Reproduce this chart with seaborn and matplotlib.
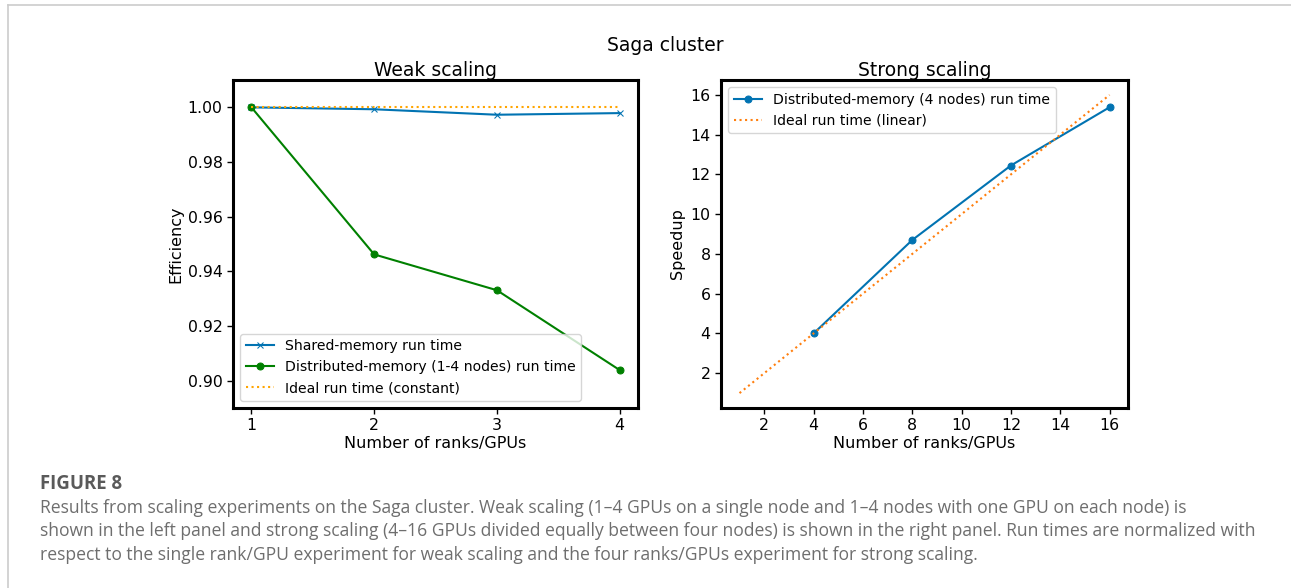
import matplotlib
matplotlib.use("Agg")
import matplotlib.pyplot as plt
import seaborn as sns
from matplotlib.lines import Line2D

# ---- data ----
weak_x = [1, 2, 3, 4]
shared_eff = [1.0, 0.9993, 0.9973, 0.9979]
dist_eff = [1.0, 0.9462, 0.9331, 0.9039]
ideal_eff = [1.0, 1.0, 1.0, 1.0]

strong_x = [4, 8, 12, 16]
strong_speedup = [4.0, 8.70, 12.45, 15.38]
ideal_x = [1, 2, 3, 4, 5, 6, 7, 8, 9, 10, 11, 12, 13, 14, 15, 16]
ideal_speedup = [1, 2, 3, 4, 5, 6, 7, 8, 9, 10, 11, 12, 13, 14, 15, 16]

weak_yticks = [0.90, 0.92, 0.94, 0.96, 0.98, 1.00]
strong_xticks = [2, 4, 6, 8, 10, 12, 14, 16]
strong_yticks = [2, 4, 6, 8, 10, 12, 14, 16]

suptitle = "Saga cluster"
caption_head = "FIGURE 8"
caption_lines = [
    "Results from scaling experiments on the Saga cluster. Weak scaling (1\u20134 GPUs on a single node and 1\u20134 nodes with one GPU on each node) is",
    "shown in the left panel and strong scaling (4\u201316 GPUs divided equally between four nodes) is shown in the right panel. Run times are normalized with",
    "respect to the single rank/GPU experiment for weak scaling and the four ranks/GPUs experiment for strong scaling.",
]

BLUE = "#0173b2"
GREEN = "#008000"
ORANGE_L = "#ffa500"
ORANGE_R = "#ff7f0e"

plt.rcParams["font.family"] = ["DejaVu Sans"]
W, H = 1291, 588
fig = plt.figure(figsize=(W / 100, H / 100), dpi=100)

ax1 = fig.add_axes([0.1805, 0.3061, 0.3137, 0.5578])
ax2 = fig.add_axes([0.5585, 0.3061, 0.3153, 0.5578])

sns.lineplot(x=weak_x, y=shared_eff, ax=ax1, color=BLUE, marker="x", markersize=5,
             markeredgecolor=BLUE, linewidth=1.5, label="Shared-memory run time")
sns.lineplot(x=weak_x, y=dist_eff, ax=ax1, color=GREEN, marker="o", markersize=5,
             markeredgecolor=GREEN, linewidth=1.5, label="Distributed-memory (1-4 nodes) run time")
sns.lineplot(x=weak_x, y=ideal_eff, ax=ax1, color=ORANGE_L, linestyle=":", linewidth=1.5,
             label="Ideal run time (constant)")
ax1.set_ylim(0.89, 1.01)
ax1.set_xlim(0.85, 4.15)
ax1.set_xticks(weak_x)
ax1.set_yticks(weak_yticks)
ax1.set_yticklabels([f"{v:.2f}" for v in weak_yticks])
ax1.set_xlabel("Number of ranks/GPUs", fontsize=11.5, labelpad=2)
ax1.set_ylabel("Efficiency", fontsize=11.5, labelpad=3)
ax1.set_title("Weak scaling", fontsize=13.5, pad=3)
ax1.legend(loc="lower left", fontsize=10.1, framealpha=0.8)

sns.lineplot(x=strong_x, y=strong_speedup, ax=ax2, color=BLUE, marker="o", markersize=5,
             markeredgecolor=BLUE, linewidth=1.5, label="Distributed-memory (4 nodes) run time")
sns.lineplot(x=ideal_x, y=ideal_speedup, ax=ax2, color=ORANGE_R, linestyle=":", linewidth=1.5,
             label="Ideal run time (linear)")
ax2.set_xlim(0.25, 16.75)
ax2.set_ylim(0.25, 16.75)
ax2.set_xticks(strong_xticks)
ax2.set_yticks(strong_yticks)
ax2.set_xlabel("Number of ranks/GPUs", fontsize=11.5, labelpad=2)
ax2.set_ylabel("Speedup", fontsize=11.5)
ax2.set_title("Strong scaling", fontsize=13.5, pad=3)
ax2.legend(loc="upper left", fontsize=10.1, framealpha=0.8)

for ax in (ax1, ax2):
    for s in ax.spines.values():
        s.set_linewidth(2.2)
        s.set_color("black")
    ax.tick_params(labelsize=11.3, width=1, length=4)

fig.text(0.515, 0.923, suptitle, ha="center", va="center", fontsize=13.5)

# page frame
fig.add_artist(Line2D([8 / W, 1.0], [1 - 5 / H, 1 - 5 / H], color="#cccccc", linewidth=1.2))
fig.add_artist(Line2D([8 / W, 8 / W], [0.0, 1 - 5 / H], color="#cccccc", linewidth=1.2))

# caption (font size fitted to the reference line widths)
CAP_FONT = ["Open Sans", "DejaVu Sans"]
renderer = fig.canvas.get_renderer()

head = fig.text(40 / W, 1 - 484 / H, caption_head, ha="left", va="center", fontsize=12,
                color="#5a5a5a", family=CAP_FONT, fontweight="bold")
wh = head.get_window_extent(renderer).width
head.set_fontsize(12 * 82 / wh)

texts = []
for line, y in zip(caption_lines, [508, 531, 555]):
    t = fig.text(40 / W, 1 - y / H, line, ha="left", va="center", fontsize=11,
                 color="#6e6e6e", family=CAP_FONT)
    texts.append(t)
w2 = texts[1].get_window_extent(renderer).width
fs = 11 * 1220 / w2
for t in texts:
    t.set_fontsize(fs)

fig.savefig("out.png", dpi=100)
